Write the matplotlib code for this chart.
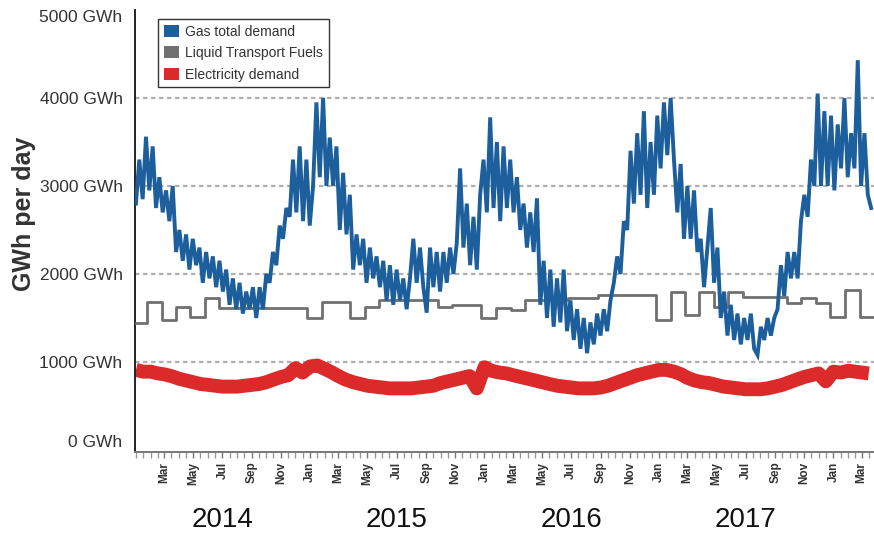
import datetime as dt
import matplotlib
matplotlib.use("Agg")
import matplotlib.pyplot as plt
import matplotlib.dates as mdates
from matplotlib.patches import Patch
from matplotlib.transforms import blended_transform_factory

plt.rcParams['font.family'] = ['Liberation Sans', 'DejaVu Sans']

# ---------------- data ----------------
gas_start = dt.date(2014, 1, 1)          # weekly samples
gas_values = [
    2800, 3300, 2850, 3560, 2950, 3450, 2750, 3100, 2700, 2950,
    2600, 3000, 2250, 2500, 2150, 2450, 2050, 2400, 2100, 2300,
    1900, 2250, 1950, 2200, 1850, 2150, 1800, 2050, 1650, 1950,
    1600, 1900, 1550, 1800, 1600, 1850, 1500, 1850, 1600, 2000,
    1900, 2250, 2100, 2550, 2400, 2750, 2650, 3300, 2700, 3450,
    2600, 3300, 2550, 3000, 3950, 3100, 4000, 3000, 3550, 3000,
    3450, 2500, 3150, 2450, 2900, 2050, 2450, 2100, 2400, 1900,
    2300, 1950, 2200, 1850, 2150, 1700, 2100, 1650, 2050, 1700,
    1950, 1600, 1950, 2400, 1900, 2300, 1850, 1560, 2300, 1850,
    2250, 1800, 2250, 1900, 2300, 2000, 2350, 3200, 2300, 2800,
    2100, 2650, 2050, 2900, 3300, 2700, 3780, 2750, 3500, 2600,
    3450, 2750, 3300, 2700, 3100, 2500, 2800, 2300, 2700, 2250,
    2860, 1650, 2150, 1500, 2050, 1400, 1950, 1450, 2050, 1350,
    1700, 1250, 1600, 1150, 1500, 1100, 1450, 1200, 1550, 1300,
    1600, 1350, 1700, 1900, 2200, 2000, 2600, 2500, 3400, 2800,
    3600, 2900, 3850, 2750, 3500, 2900, 3800, 3200, 3950, 3350,
    4000, 3300, 2700, 3250, 2400, 3000, 2400, 2950, 2250, 2400,
    1850, 2300, 2750, 1900, 2300, 1500, 1800, 1300, 1650, 1250,
    1550, 1200, 1500, 1250, 1550, 1150, 1080, 1400, 1250, 1500,
    1300, 1500, 1600, 2100, 1750, 2250, 1950, 2250, 1950, 2600,
    2900, 2650, 3300, 3000, 4050, 3000, 3850, 3000, 3800, 2950,
    3700, 3200, 4000, 3100, 3600, 3200, 4430, 3000, 3600, 2900,
    2750,
]

# semi-monthly (1st and 16th) electricity demand, Jan 2014 .. Mar 2018
elec_values = [
    910, 890, 890, 870, 860, 840, 810, 790, 770, 750, 740, 730,
    720, 720, 720, 730, 740, 750, 770, 800, 830, 850, 930, 880,
    950, 960, 920, 880, 840, 800, 770, 750, 730, 720, 710, 700,
    700, 700, 700, 710, 720, 730, 760, 780, 800, 820, 840, 700,
    940, 900, 880, 870, 850, 830, 810, 790, 770, 750, 730, 720,
    710, 700, 700, 700, 710, 730, 760, 790, 820, 850, 870, 890,
    910, 910, 890, 860, 820, 790, 770, 760, 740, 720, 710, 700,
    690, 690, 690, 700, 720, 740, 770, 800, 830, 850, 870, 780,
    890, 880, 900, 890, 880, 870,
]

# liquid transport fuels: monthly steps (first value from 1 Jan 2014,
# then each value from the 25th of successive months)
fuel_values = [
    1440,
    1680, 1480, 1630, 1510, 1730, 1610, 1610, 1610, 1610, 1610, 1610,
    1500, 1680, 1680, 1500, 1630, 1700, 1710, 1710, 1710, 1630, 1650, 1650,
    1500, 1610, 1590, 1700, 1700, 1700, 1730, 1730, 1760, 1760, 1760, 1760,
    1480, 1800, 1530, 1800, 1630, 1800, 1740, 1740, 1740, 1670, 1730, 1670,
    1510, 1820, 1510,
]

series_labels = ["Gas total demand", "Liquid Transport Fuels", "Electricity demand"]
year_labels = ["2014", "2015", "2016", "2017"]
ytick_values = [0, 1000, 2000, 3000, 4000, 5000]

# ---------------- dates ----------------
gas_dates = [gas_start + dt.timedelta(days=7 * i) for i in range(len(gas_values))]

elec_dates = []
for i in range(len(elec_values)):
    m = i // 2
    y, mo = 2014 + m // 12, m % 12 + 1
    elec_dates.append(dt.date(y, mo, 1 if i % 2 == 0 else 16))

fuel_dates = [dt.date(2014, 1, 1)]
for k in range(len(fuel_values) - 1):
    y, mo = 2014 + k // 12, k % 12 + 1
    fuel_dates.append(dt.date(y, mo, 25))
end_date = dt.date(2018, 3, 24)
fuel_dates_plot = fuel_dates + [end_date]
fuel_values_plot = fuel_values + [fuel_values[-1]]

month_label_dates = []
for k in range(2, 51, 2):
    month_label_dates.append(dt.date(2014 + k // 12, k % 12 + 1, 1))

# ---------------- figure ----------------
W, H = 874, 534
fig = plt.figure(figsize=(W / 100, H / 100), dpi=100)
ax = fig.add_axes([135 / W, (H - 452) / H, (W - 135) / W, 442 / H])

blue = '#1c5f9c'
gray = '#707070'
red = '#dc2a2a'

for gv in [1000, 2000, 3000, 4000]:
    ax.axhline(gv, color='#b0b0b0', lw=1.6, dashes=(2.0, 1.6), zorder=1)

ax.plot(elec_dates, elec_values, color=red, lw=10, solid_capstyle='butt',
        solid_joinstyle='round', zorder=2)
ax.plot(fuel_dates_plot, fuel_values_plot, color=gray, lw=2.0,
        drawstyle='steps-post', zorder=3)
ax.plot(gas_dates, gas_values, color=blue, lw=2.8, solid_joinstyle='miter', zorder=4)

ax.set_xlim(dt.date(2013, 12, 30), dt.date(2018, 3, 27))
ax.set_ylim(-23, 5000)

ax.set_yticks(ytick_values)
ax.set_yticklabels([f"{v} GWh" for v in ytick_values], fontsize=12.5, color='#333333')
ax.tick_params(axis='y', length=0, pad=9)
tl = ax.get_yticklabels()
tl[-1].set_va('top')
tl[0].set_va('bottom')

ax.set_xticks([mdates.date2num(d) for d in month_label_dates])
ax.xaxis.set_major_formatter(mdates.DateFormatter('%b'))
ax.xaxis.set_minor_locator(mdates.MonthLocator(bymonthday=[1, 16]))
ax.tick_params(axis='x', which='major', length=4, width=1, color='#777777',
               labelsize=8.5, labelcolor='#333333', pad=3, labelrotation=90)
ax.tick_params(axis='x', which='minor', length=4, width=1, color='#999999')
for lab in ax.get_xticklabels():
    lab.set_fontweight('bold')

for s in ['top', 'right']:
    ax.spines[s].set_visible(False)
ax.spines['left'].set_color('#222222')
ax.spines['left'].set_linewidth(1.4)
ax.spines['bottom'].set_color('#777777')
ax.spines['bottom'].set_linewidth(1.4)

ax.set_ylabel("GWh per day", fontsize=18, fontweight='bold', color='#333333')
ax.yaxis.set_label_coords((36 - 135) / (W - 135), 0.54)

trans = blended_transform_factory(ax.transData, fig.transFigure)
for i, yl in enumerate(year_labels):
    ax.text(dt.date(2014 + i, 7, 1), (H - 520) / H, yl, transform=trans,
            ha='center', va='center', fontsize=20, color='#111111', clip_on=False)

handles = [Patch(facecolor=blue, edgecolor='none'),
           Patch(facecolor=gray, edgecolor='none'),
           Patch(facecolor=red, edgecolor='none')]
leg = ax.legend(handles, series_labels, loc='upper left',
                bbox_to_anchor=((158 - 135) / (W - 135), (452 - 19) / 442),
                prop={'size': 10}, frameon=True, fancybox=False, framealpha=1,
                edgecolor='#333333', handlelength=1.1, handleheight=0.95,
                handletextpad=0.45, borderpad=0.4, labelspacing=0.55,
                borderaxespad=0)
leg.get_frame().set_linewidth(1.0)
for t in leg.get_texts():
    t.set_color('#333333')

fig.savefig("out.png", dpi=100)
